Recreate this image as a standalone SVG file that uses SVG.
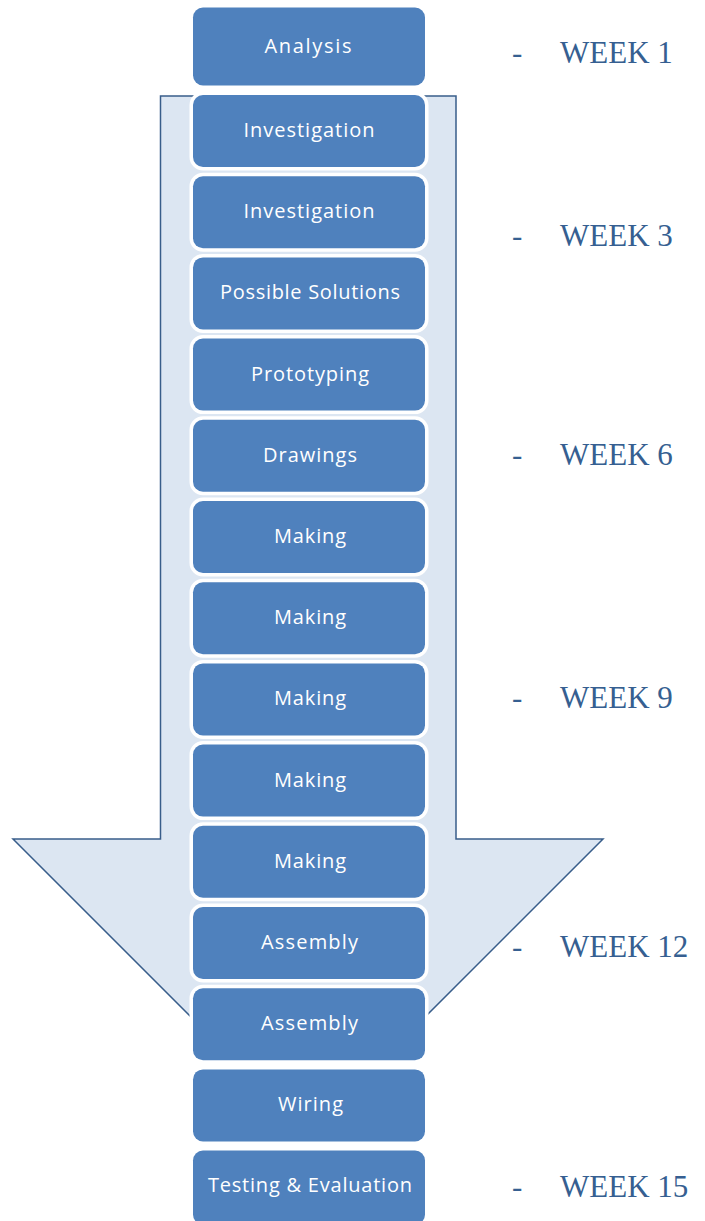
<svg xmlns="http://www.w3.org/2000/svg" width="705" height="1221" viewBox="0 0 705 1221">
<style>
.box{fill:#4f81bd;stroke:#ffffff;stroke-width:7;paint-order:stroke}
.lbl{fill:#ffffff;font-family:"Open Sans","Liberation Sans",sans-serif;font-size:20px;text-anchor:middle}
.wk{fill:#365f91;font-family:"Liberation Serif","Times New Roman",serif;font-size:31px}
</style>
<rect width="705" height="1221" fill="#ffffff"/>
<g id="connectors">
<polygon id="arrow" points="160.5,96 456,96 456,839 603,839 382,1060 234,1060 13,839 160.5,839" fill="#dce6f2" stroke="#385d8a" stroke-width="1.5" stroke-linejoin="miter"/>
</g>
<g id="n1"><rect class="box" x="193" y="7.5" width="232" height="78" rx="10"/><text class="lbl" x="308" y="53" textLength="87" lengthAdjust="spacing">Analysis</text></g>
<g id="n2"><rect class="box" x="193" y="95" width="232" height="72" rx="10"/><text class="lbl" x="309" y="137" textLength="131" lengthAdjust="spacing">Investigation</text></g>
<g id="n3"><rect class="box" x="193" y="176.2" width="232" height="72" rx="10"/><text class="lbl" x="309" y="218.2" textLength="131" lengthAdjust="spacing">Investigation</text></g>
<g id="n4"><rect class="box" x="193" y="257.4" width="232" height="72" rx="10"/><text class="lbl" x="310" y="299.4" textLength="180" lengthAdjust="spacing">Possible Solutions</text></g>
<g id="n5"><rect class="box" x="193" y="338.6" width="232" height="72" rx="10"/><text class="lbl" x="310" y="380.6" textLength="118" lengthAdjust="spacing">Prototyping</text></g>
<g id="n6"><rect class="box" x="193" y="419.8" width="232" height="72" rx="10"/><text class="lbl" x="310" y="461.8" textLength="94" lengthAdjust="spacing">Drawings</text></g>
<g id="n7"><rect class="box" x="193" y="501" width="232" height="72" rx="10"/><text class="lbl" x="310" y="543" textLength="72" lengthAdjust="spacing">Making</text></g>
<g id="n8"><rect class="box" x="193" y="582.2" width="232" height="72" rx="10"/><text class="lbl" x="310" y="624.2" textLength="72" lengthAdjust="spacing">Making</text></g>
<g id="n9"><rect class="box" x="193" y="663.4" width="232" height="72" rx="10"/><text class="lbl" x="310" y="705.4" textLength="72" lengthAdjust="spacing">Making</text></g>
<g id="n10"><rect class="box" x="193" y="744.6" width="232" height="72" rx="10"/><text class="lbl" x="310" y="786.6" textLength="72" lengthAdjust="spacing">Making</text></g>
<g id="n11"><rect class="box" x="193" y="825.8" width="232" height="72" rx="10"/><text class="lbl" x="310" y="867.8" textLength="72" lengthAdjust="spacing">Making</text></g>
<g id="n12"><rect class="box" x="193" y="907" width="232" height="72" rx="10"/><text class="lbl" x="309.5" y="949" textLength="97" lengthAdjust="spacing">Assembly</text></g>
<g id="n13"><rect class="box" x="193" y="988.2" width="232" height="72" rx="10"/><text class="lbl" x="309.5" y="1030.2" textLength="97" lengthAdjust="spacing">Assembly</text></g>
<g id="n14"><rect class="box" x="193" y="1069.4" width="232" height="72" rx="10"/><text class="lbl" x="310.5" y="1111" textLength="65" lengthAdjust="spacing">Wiring</text></g>
<g id="n15"><rect class="box" x="193" y="1150.6" width="232" height="74" rx="10"/><text class="lbl" x="310" y="1192" textLength="204" lengthAdjust="spacing">Testing &amp; Evaluation</text></g>
<g id="weeks">
<text class="wk" x="512" y="63">-</text><text class="wk" x="560" y="63">WEEK 1</text>
<text class="wk" x="512" y="246">-</text><text class="wk" x="560" y="246">WEEK 3</text>
<text class="wk" x="512" y="465">-</text><text class="wk" x="560" y="465">WEEK 6</text>
<text class="wk" x="512" y="708">-</text><text class="wk" x="560" y="708">WEEK 9</text>
<text class="wk" x="512" y="957">-</text><text class="wk" x="560" y="957">WEEK 12</text>
<text class="wk" x="512" y="1197">-</text><text class="wk" x="560" y="1197">WEEK 15</text>
</g>
</svg>
